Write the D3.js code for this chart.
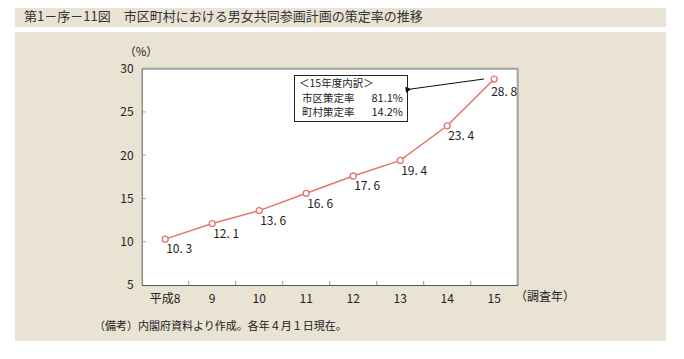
<!DOCTYPE html>
<html><head><meta charset="utf-8">
<script src="https://cdn.jsdelivr.net/npm/d3@7"></script>
<style>
body{margin:0;background:#fff;}
text{font-family:"Noto Sans CJK JP","Liberation Sans",sans-serif;}
</style></head>
<body>
<svg id="c" width="684" height="359"></svg>
<script>
const title = "第1－序－11図　市区町村における男女共同参画計画の策定率の推移";
const categories = ["平成8","9","10","11","12","13","14","15"];
const values = [10.3, 12.1, 13.6, 15.6, 17.6, 19.4, 23.4, 28.8];
const valueLabels = ["10. 3","12. 1","13. 6","16. 6","17. 6","19. 4","23. 4","28. 8"];
const yTicks = [5,10,15,20,25,30];
const boxLines = [["＜15年度内訳＞",""],["市区策定率","81.1%"],["町村策定率","14.2%"]];
const note = "（備考）内閣府資料より作成。各年４月１日現在。";

const svg = d3.select("#c");
const bg = "#e9e3d3";
svg.append("rect").attr("x",15).attr("y",8).attr("width",651).attr("height",19).attr("fill",bg);
svg.append("rect").attr("x",15).attr("y",32).attr("width",651).attr("height",309).attr("fill",bg);
svg.append("text").attr("x",24).attr("y",17.5).attr("dominant-baseline","middle")
  .attr("font-size",13).attr("fill","#333").text(title);

const L=141.7,R=517.7,T=68.7,B=285;
const x = d3.scaleBand().domain(categories).range([L,R]);
const y = d3.scaleLinear().domain([5,30]).range([B,T]);
svg.append("rect").attr("x",L).attr("y",T).attr("width",R-L).attr("height",B-T).attr("fill","#fff");
svg.append("path").attr("d",`M${L},${T}H${R}V${B}`).attr("fill","none").attr("stroke","#a0a0a0").attr("stroke-width",2);

// y axis
const ya = svg.append("g").attr("transform",`translate(${L},0)`)
  .call(d3.axisLeft(y).tickValues(yTicks).tickSize(0).tickPadding(8));
ya.select(".domain").attr("stroke","#555");
ya.selectAll("text").attr("font-size",12).attr("fill","#222").attr("font-family","Liberation Sans, sans-serif");
svg.append("g").selectAll("line").data(yTicks.slice(1,-1)).join("line")
  .attr("x1",L).attr("x2",L+4).attr("y1",d=>y(d)).attr("y2",d=>y(d)).attr("stroke","#999");

// x axis
const xa = svg.append("g").attr("transform",`translate(0,${B})`)
  .call(d3.axisBottom(x).tickSize(0).tickPadding(9));
xa.select(".domain").attr("stroke","#555");
xa.selectAll("text").attr("font-size",12).attr("fill","#222");
svg.append("g").selectAll("line").data(categories.slice(1)).join("line")
  .attr("x1",d=>x(d)).attr("x2",d=>x(d)).attr("y1",B).attr("y2",B-4).attr("stroke","#999");
svg.append("text").attr("x",515).attr("y",B+16).attr("font-size",12).attr("fill","#222").text("（調査年）");
svg.append("text").attr("x",141).attr("y",52.5).attr("text-anchor","middle").attr("dominant-baseline","middle")
  .attr("font-size",11.5).attr("fill","#222").text("（%）");

// line
const cx = d=>x(d)+x.bandwidth()/2;
const pts = categories.map((c,i)=>[cx(c),y(values[i])]);
svg.append("path").attr("d",d3.line()(pts)).attr("fill","none").attr("stroke","#e6736c").attr("stroke-width",1.5);
svg.append("g").selectAll("circle").data(pts).join("circle")
  .attr("cx",d=>d[0]).attr("cy",d=>d[1]).attr("r",3)
  .attr("fill","#fff").attr("stroke","#e6736c").attr("stroke-width",1.3);
svg.append("g").selectAll("text").data(pts).join("text")
  .attr("x",(d,i)=>d[0]+(i===7?-3:1)).attr("y",(d,i)=>d[1]+(i===7?14:11))
  .attr("dominant-baseline","middle").attr("font-size",12).attr("fill","#222")
  .attr("font-family","Liberation Sans, sans-serif")
  .text((d,i)=>valueLabels[i]);

// annotation box
svg.append("rect").attr("x",294.5).attr("y",75.5).attr("width",113).attr("height",46)
  .attr("fill","#fff").attr("stroke","#222").attr("stroke-width",1);
boxLines.forEach((l,i)=>{
  const yy = 84.5+i*14.5;
  svg.append("text").attr("x",i===0?299:302).attr("y",yy).attr("dominant-baseline","middle")
    .attr("font-size",10.5).attr("fill","#222").text(l[0]);
  if(l[1]) svg.append("text").attr("x",403).attr("y",yy).attr("dominant-baseline","middle")
    .attr("text-anchor","end").attr("font-size",11).attr("fill","#222")
    .attr("font-family","Liberation Sans, sans-serif").text(l[1]);
});
// arrow
const defs = svg.append("defs");
defs.append("marker").attr("id","ah").attr("viewBox","0 0 10 10").attr("refX",1).attr("refY",5)
  .attr("markerWidth",9).attr("markerHeight",6).attr("orient","auto-start-reverse").attr("markerUnits","userSpaceOnUse")
  .append("path").attr("d","M0,5L10,0L10,10Z").attr("fill","#111");
svg.append("line").attr("x1",484).attr("y1",79).attr("x2",411).attr("y2",89)
  .attr("stroke","#111").attr("stroke-width",1.2).attr("marker-end","url(#ah)");

// note
svg.append("text").attr("x",94).attr("y",327).attr("dominant-baseline","middle")
  .attr("font-size",11).attr("fill","#222")
  .attr("font-family","'Noto Serif CJK JP','Noto Sans CJK JP',serif").text(note);
</script>
</body></html>
